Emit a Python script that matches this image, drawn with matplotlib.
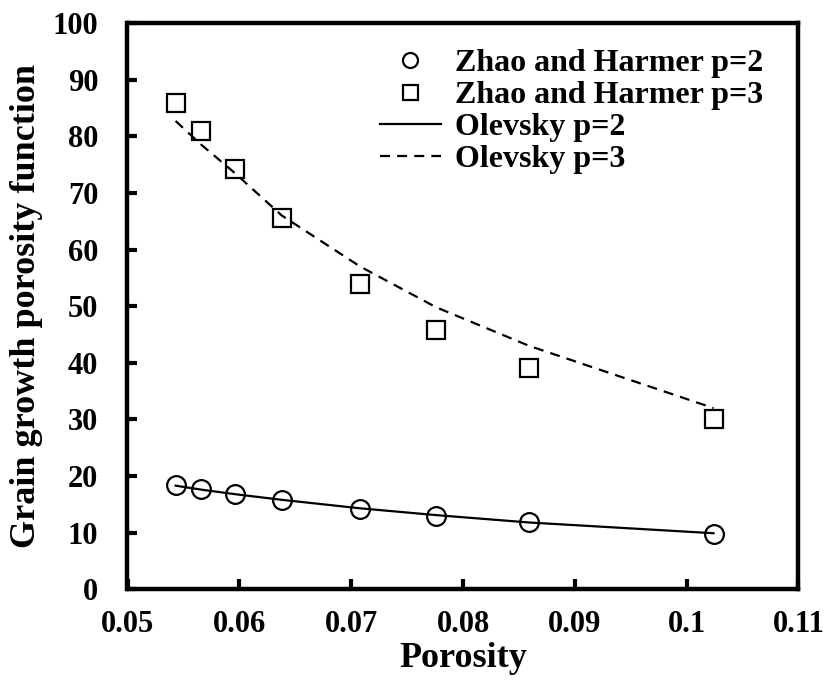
import matplotlib
matplotlib.use("Agg")
import matplotlib.pyplot as plt
from matplotlib.ticker import FixedLocator

plt.rcParams['font.family'] = ['Liberation Serif', 'DejaVu Serif']
plt.rcParams['font.weight'] = 'bold'

porosity = [0.0543, 0.0566, 0.0596, 0.0638, 0.0708, 0.0776, 0.0859, 0.1024]
zh_p2 = [18.4, 17.7, 16.8, 15.8, 14.2, 13.0, 11.8, 9.8]
zh_p3 = [85.8, 80.9, 74.2, 65.6, 53.9, 45.8, 39.0, 30.0]
olevsky_p2 = [18.3, 17.6, 16.8, 15.8, 14.3, 13.1, 11.8, 9.9]
olevsky_p3 = [82.7, 78.5, 73.5, 66.0, 57.0, 49.8, 43.0, 32.0]

xticks = [0.05, 0.06, 0.07, 0.08, 0.09, 0.10, 0.11]
xticklabels = ["0.05", "0.06", "0.07", "0.08", "0.09", "0.1", "0.11"]
yticks = [0, 10, 20, 30, 40, 50, 60, 70, 80, 90, 100]
yticklabels = [str(v) for v in yticks]

W, H = 827, 686
fig = plt.figure(figsize=(W / 100, H / 100), dpi=100)
ax = fig.add_axes([127.5 / W, 1 - 589.3 / H, (798.5 - 127.5) / W, (589.3 - 23) / H])

ax.plot(porosity, zh_p2, linestyle='none', marker='o', ms=13.5, mfc='none',
        mec='black', mew=1.6, label='Zhao and Harmer p=2', zorder=3)
ax.plot(porosity, zh_p3, linestyle='none', marker='s', ms=13.5, mfc='none',
        mec='black', mew=1.6, label='Zhao and Harmer p=3', zorder=3)
ax.plot(porosity, olevsky_p2, color='black', lw=1.6, label='Olevsky p=2', zorder=2)
ax.plot(porosity, olevsky_p3, color='black', lw=1.6, linestyle=(0, (4.5, 3.2)),
        label='Olevsky p=3', zorder=2)

ax.set_xlim(0.05, 0.11)
ax.set_ylim(0, 100)
ax.xaxis.set_major_locator(FixedLocator(xticks))
ax.set_xticklabels(xticklabels)
ax.yaxis.set_major_locator(FixedLocator(yticks))
ax.set_yticklabels(yticklabels)

for s in ax.spines.values():
    s.set_linewidth(3.2)
ax.tick_params(axis='both', direction='in', length=7, width=3, labelsize=22)
ax.tick_params(axis='x', pad=15)
ax.tick_params(axis='y', pad=21)
for lab in ax.get_xticklabels() + ax.get_yticklabels():
    lab.set_fontweight('bold')

ax.set_xlabel('Porosity', fontsize=26, fontweight='bold', labelpad=2)
ax.set_ylabel('Grain growth porosity function', fontsize=26, fontweight='bold', labelpad=7)

leg = ax.legend(loc='upper left', bbox_to_anchor=(380 / W, 1 - 49 / H),
                bbox_transform=fig.transFigure, frameon=False, fontsize=23,
                borderpad=0, borderaxespad=0, handlelength=1.9, handletextpad=0.45,
                labelspacing=0.08, markerscale=0.8)
for t in leg.get_texts():
    t.set_fontweight('bold')

fig.savefig('out.png', dpi=100)
